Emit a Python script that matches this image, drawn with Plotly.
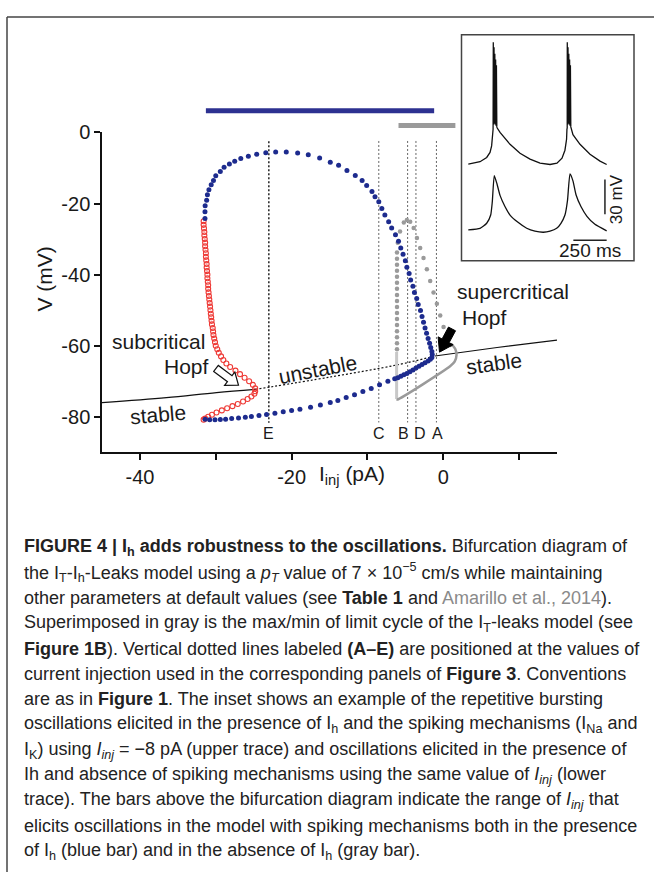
import math
import plotly.graph_objects as go

W, H = 654, 872
FONT = "Liberation Sans, Arial, sans-serif"

# ---------------- main bifurcation diagram data (I_inj pA, V mV) ----------------
ss_stable_left_I = [-45.0, -36.5, -29.9, -24.8]
ss_stable_left_V = [-76.0, -74.6, -73.2, -72.3]
ss_unstable_I = [-24.8, -14.9, -6.1, -1.1]
ss_unstable_V = [-72.3, -68.8, -65.4, -62.9]
ss_stable_right_I = [-1.1, 7.1, 15.0]
ss_stable_right_V = [-62.9, -60.5, -58.4]

# stable limit cycle (with I_h) - maxima branch
blue_max_I = [-31.42, -31.42, -31.4, -31.2, -31.1, -30.9, -30.6, -30.3, -30.0, -29.4, -28.9, -28.2,
              -27.5, -26.7, -25.7, -24.6, -23.4, -22.1, -20.7, -19.2, -17.8, -16.3, -14.9, -13.8,
              -12.7, -11.6, -10.7, -10.1, -9.4, -9.0, -8.5, -8.1, -7.7, -7.2, -6.8, -6.3, -5.9,
              -5.6, -5.3, -5.0, -4.8, -4.5, -4.3, -4.0, -3.8, -3.5, -3.3, -3.0, -2.8, -2.6, -2.4,
              -2.2, -2.0, -1.8, -1.65, -1.5, -1.45, -1.5]
blue_max_V = [-24.2, -22.3, -20.6, -19.1, -17.5, -16.1, -14.7, -13.5, -12.2, -11.0, -9.8, -8.9,
              -8.1, -7.3, -6.7, -6.1, -5.7, -5.5, -5.5, -5.8, -6.3, -7.2, -8.4, -9.2,
              -10.7, -12.1, -13.5, -14.9, -16.6, -18.1, -19.5, -21.4, -23.2, -25.1, -26.9, -28.8, -30.6,
              -32.5, -34.3, -36.1, -37.9, -39.7, -41.5, -43.3, -45.0, -46.7, -48.4, -50.1, -51.8, -53.4, -55.0,
              -56.5, -58.0, -59.3, -60.5, -61.6, -62.5, -63.3]
# minima branch
blue_min_I = [-1.7, -2.0, -2.4, -2.8, -3.2, -3.6, -4.0, -4.4, -4.8, -5.2, -5.6, -6.0, -6.4,
              -7.3, -8.4, -9.5, -10.6, -11.7, -12.8, -13.9, -14.9, -16.2, -17.5, -18.9, -20.0,
              -21.1, -22.2, -23.3, -24.3, -25.3, -26.1, -27.0, -27.9, -28.7, -29.4, -30.1, -30.8, -31.4]
blue_min_V = [-63.8, -64.3, -64.8, -65.3, -65.8, -66.3, -66.8, -67.3, -67.8, -68.2, -68.6, -69.0, -69.3,
              -70.0, -71.0, -72.0, -72.9, -73.8, -74.6, -75.4, -76.0, -76.7, -77.3, -77.9, -78.25,
              -78.6, -79.0, -79.35, -79.6, -79.9, -80.1, -80.3, -80.5, -80.65, -80.75, -80.85, -80.85, -80.7]

# unstable limit cycle (with I_h)
red_I = [-31.6, -31.6, -31.55, -31.5, -31.5, -31.45, -31.4, -31.4, -31.35, -31.3, -31.3, -31.25,
         -31.2, -31.2, -31.15, -31.1, -31.1, -31.05, -31.0, -31.0, -30.95, -30.9, -30.85, -30.8,
         -30.75, -30.7, -30.65, -30.6, -30.55, -30.5, -30.4, -30.35, -30.3, -30.2, -30.1, -30.0,
         -29.8, -29.6, -29.3, -29.0, -28.6, -28.1, -27.4, -26.8, -26.2, -25.6, -25.1, -24.8,
         -24.8, -24.9, -25.3, -25.8, -26.4, -27.1, -27.8, -28.5, -29.2, -29.9, -30.5, -31.0, -31.4, -31.6]
red_V = [-25, -26, -27, -28, -29, -30, -31, -32, -33, -34, -35, -36,
         -37, -38, -39, -40, -41, -42, -43, -44, -45, -46, -47, -48,
         -49, -50, -51, -52, -53, -54, -55, -56, -57, -58, -59, -60,
         -61, -62, -63, -64, -65, -66, -67, -68, -69, -70, -71, -72,
         -72.8, -73.5, -74.3, -75.0, -75.7, -76.4, -77.0, -77.6, -78.2, -78.8, -79.4, -80.0, -80.5, -80.8]

# I_T-leaks model limit cycle (gray): maxima and minima
gray_max_I = [-6.1] * 17 + [-6.0, -5.7, -5.2, -4.8, -4.36, -3.9, -3.47, -3.04, -2.6, -2.16, -1.72,
                             -1.28, -0.84, -0.4, 0.04, 0.48, 0.92]
gray_max_V = [-61.0, -59.3, -57.6, -55.9, -54.2, -52.5, -50.8, -49.1, -47.4, -45.7, -44.0, -42.3,
              -40.6, -38.9, -37.2, -35.5, -33.8, -31.0, -27.9, -25.3, -24.6, -25.1, -26.9, -29.7,
              -32.5, -35.3, -38.5, -41.8, -45.0, -48.2, -51.5, -54.7, -57.5, -59.8]
gray_min_I = [1.1, 1.6, 1.75, 1.5, 0.9, -6.0, -6.15]
gray_min_V = [-59.5, -61.0, -62.6, -64.5, -65.8, -75.1, -75.0]
gray_edge_I = [-6.15, -6.15]
gray_edge_V = [-75.0, -61.8]

# vertical dotted lines (current injection of Figure 3 panels)
vline_names = ["E", "C", "B", "D", "A"]
vline_I = [-23.0, -8.5, -4.7, -3.6, -0.9]
vlabel_I = [-23.0, -8.5, -5.3, -3.1, -0.7]

# ranges of I_inj eliciting oscillations
blue_bar_I = [-31.3, -1.2]
gray_bar_I = [-5.9, 1.6]

# axis ticks
x_tickvals = [-40, -30, -20, -10, 0, 10]
x_ticktext = ["-40", "", "-20", "", "0", ""]
y_tickvals = [-80, -60, -40, -20, 0]
y_ticktext = ["-80", "-60", "-40", "-20", "0"]

# ---------------- inset traces (t ms, V mV) ----------------
upper_t = [0, 88, 138, 163, 175, 180, 186, 187.5, 190, 193, 196, 199, 202, 205, 208, 211, 214, 217,
           238, 275, 313, 388, 463, 538, 613, 665, 703, 725, 737, 740,
           742, 742.5, 745, 748, 751, 754, 757, 760, 763, 766, 769, 772,
           785, 838, 913, 988, 1038]
upper_v = [-75.0, -73.0, -69.3, -65.0, -59.4, -52.0, -45.0, 29.8, -41.0, 25.5, -40.0, 20.0, -41.0, 15.0,
           -42.0, 10.0, -43.0, -44.0,
           -47.8, -52.9, -58.0, -65.7, -70.8, -74.2, -75.4, -74.2, -69.9, -63.1, -53.8, -45.0,
           -44.0, 29.8, -41.0, 25.5, -40.0, 20.0, -41.0, 15.0, -42.0, 10.0, -43.0, -44.0,
           -49.7, -58.0, -66.5, -72.5, -75.4]
lower_t = [0, 88, 138, 168, 180, 195, 215, 238, 275, 313, 373, 438, 500, 563, 613, 663, 695, 725,
           744, 763, 785, 808, 845, 890, 950, 1038]
lower_v = [-75.0, -73.6, -69.3, -62.2, -50.9, -28.2, -35.3, -45.3, -54.9, -62.2, -68.5, -73.6, -76.1,
           -77.0, -76.1, -73.6, -69.3, -62.2, -49.8, -26.8, -32.8, -44.7, -54.9, -63.3, -70.2, -75.8]
LOWER_OFFSET = -56.7          # vertical display offset of the lower trace
scale_t = 250                 # ms
scale_v = 30                  # mV

# ---------------- geometry helpers ----------------
X0_PX, X1_PX = 102, 557
Y0_PX, Y1_PX = 123, 447       # y=0 mV at top, -90 at bottom
XR = [-45, 15]
YR = [-90, 0]


def px2d(x, y):
    I = XR[0] + (x - X0_PX) * (XR[1] - XR[0]) / (X1_PX - X0_PX)
    V = YR[1] - (y - Y0_PX) * (YR[1] - YR[0]) / (Y1_PX - Y0_PX)
    return I, V


def arrow_path(tail, tip, head_len, head_hw, shaft_hw):
    dx, dy = tip[0] - tail[0], tip[1] - tail[1]
    L = math.hypot(dx, dy)
    ux, uy = dx / L, dy / L
    nx, ny = -uy, ux
    neck = (tip[0] - ux * head_len, tip[1] - uy * head_len)
    pts = [
        (tail[0] + nx * shaft_hw, tail[1] + ny * shaft_hw),
        (neck[0] + nx * shaft_hw, neck[1] + ny * shaft_hw),
        (neck[0] + nx * head_hw, neck[1] + ny * head_hw),
        tip,
        (neck[0] - nx * head_hw, neck[1] - ny * head_hw),
        (neck[0] - nx * shaft_hw, neck[1] - ny * shaft_hw),
        (tail[0] - nx * shaft_hw, tail[1] - ny * shaft_hw),
    ]
    d = [px2d(*p) for p in pts]
    return "M " + " L ".join(f"{a:.3f},{b:.3f}" for a, b in d) + " Z"


def py(ypx):
    return (H - ypx) / H


def pxx(xpx):
    return xpx / W


fig = go.Figure()

BLUE = "#1d2b8e"
RED = "#ee3a36"
GRAY = "#9a9a9a"

# steady state curve
fig.add_trace(go.Scatter(x=ss_stable_left_I, y=ss_stable_left_V, mode="lines",
                         line=dict(color="#111", width=1.2, shape="spline")))
fig.add_trace(go.Scatter(x=ss_unstable_I, y=ss_unstable_V, mode="lines",
                         line=dict(color="#111", width=1.2, dash="2px,2px", shape="spline")))
fig.add_trace(go.Scatter(x=ss_stable_right_I, y=ss_stable_right_V, mode="lines",
                         line=dict(color="#111", width=1.2, shape="spline")))

# vertical dotted lines
for name, xv in zip(vline_names, vline_I):
    if name == "E":
        fig.add_trace(go.Scatter(x=[xv, xv], y=[-2.5, -81.7], mode="lines",
                                 line=dict(color="#222", width=1.5, dash="2px,2px")))
    else:
        fig.add_trace(go.Scatter(x=[xv, xv], y=[-2.4, -81.6], mode="lines",
                                 line=dict(color="#666", width=1.0, dash="2px,2px")))

# gray limit cycle (I_T-leaks model)
fig.add_trace(go.Scatter(x=gray_edge_I, y=gray_edge_V, mode="lines",
                         line=dict(color="#c8c8c8", width=3)))
fig.add_trace(go.Scatter(x=gray_min_I, y=gray_min_V, mode="lines",
                         line=dict(color=GRAY, width=2.5, shape="spline", smoothing=0.6)))
fig.add_trace(go.Scatter(x=gray_max_I, y=gray_max_V, mode="markers",
                         marker=dict(color=GRAY, size=4.5, line=dict(width=0))))

# red unstable limit cycle
fig.add_trace(go.Scatter(x=red_I, y=red_V, mode="markers",
                         marker=dict(symbol="circle-open", color=RED, size=5, line=dict(width=1.1, color=RED))))

# blue stable limit cycle
fig.add_trace(go.Scatter(x=blue_max_I, y=blue_max_V, mode="markers",
                         marker=dict(color=BLUE, size=5, line=dict(width=0))))
fig.add_trace(go.Scatter(x=blue_min_I, y=blue_min_V, mode="markers",
                         marker=dict(color=BLUE, size=5, line=dict(width=0))))

# inset traces
fig.add_trace(go.Scatter(x=upper_t, y=upper_v, mode="lines", xaxis="x2", yaxis="y2",
                         line=dict(color="#111", width=1.3)))
fig.add_trace(go.Scatter(x=lower_t, y=[v + LOWER_OFFSET for v in lower_v], mode="lines",
                         xaxis="x2", yaxis="y2", line=dict(color="#111", width=1.3, shape="spline", smoothing=0.5)))
# scale bars
sb_t_end = 1038
sb_v_y = -150 + 14
fig.add_trace(go.Scatter(x=[sb_t_end - scale_t, sb_t_end], y=[-140.6, -140.6], mode="lines",
                         xaxis="x2", yaxis="y2", line=dict(color="#222", width=1.5)))
fig.add_trace(go.Scatter(x=[1025, 1025], y=[-88.3, -88.3 - scale_v], mode="lines",
                         xaxis="x2", yaxis="y2", line=dict(color="#222", width=1.5)))

shapes = []
# page frame
shapes.append(dict(type="line", xref="paper", yref="paper", x0=pxx(7), x1=1.0, y0=py(6), y1=py(6),
                   line=dict(color="#444", width=1.5)))
shapes.append(dict(type="line", xref="paper", yref="paper", x0=pxx(7), x1=pxx(7), y0=0, y1=py(6),
                   line=dict(color="#444", width=1.5)))
# oscillation range bars
shapes.append(dict(type="line", xref="x", yref="paper", x0=blue_bar_I[0], x1=blue_bar_I[1],
                   y0=py(101), y1=py(101), line=dict(color="#2d3191", width=5)))
shapes.append(dict(type="line", xref="x", yref="paper", x0=gray_bar_I[0], x1=gray_bar_I[1],
                   y0=py(116), y1=py(116), line=dict(color=GRAY, width=5)))
# inset box
shapes.append(dict(type="rect", xref="paper", yref="paper", x0=pxx(461.5), x1=pxx(634), y0=py(253),
                   y1=py(24), line=dict(color="#444", width=1.5)))
# arrows
shapes.append(dict(type="path", xref="x", yref="y",
                   path=arrow_path((216, 362), (238.5, 379), 11, 8.5, 3.8),
                   fillcolor="white", line=dict(color="#111", width=1.2)))
shapes.append(dict(type="path", xref="x", yref="y",
                   path=arrow_path((452, 322), (439.5, 345.5), 13, 8.5, 4),
                   fillcolor="#000", line=dict(color="#000", width=1)))

ann = []


def txt(x, y, s, size=21, xref="x", yref="y", angle=0, xanchor="center", yanchor="middle", color="#1a1a1a"):
    ann.append(dict(x=x, y=y, xref=xref, yref=yref, text=s, showarrow=False, textangle=angle,
                    xanchor=xanchor, yanchor=yanchor, font=dict(family=FONT, size=size, color=color)))


for name, xl in zip(vline_names, vlabel_I):
    txt(xl, -84.8, name, size=16)

txt(*px2d(158, 335), "subcritical")
txt(*px2d(186, 360), "Hopf")
txt(*px2d(513, 284), "supercritical")
txt(*px2d(484, 310), "Hopf")
txt(*px2d(158, 409), "stable", angle=-5)
txt(*px2d(317, 363), "unstable", angle=-11)
txt(*px2d(494, 357), "stable", angle=-8)

# axis titles
txt(pxx(45), py(272), "V (mV)", size=21, xref="paper", yref="paper", angle=-90)
txt(pxx(352), py(470), "I<sub>inj</sub> (pA)", size=21, xref="paper", yref="paper")

# inset labels
txt(912, -149.8, "250 ms", size=19, xref="x2", yref="y2")
txt(1113, -105.5, "30 mV", size=17, xref="x2", yref="y2", angle=-90)

# caption
caption_lines = [
    "<b>FIGURE 4 | I<sub>h</sub> adds robustness to the oscillations.</b> Bifurcation diagram of",
    "the I<sub>T</sub>-I<sub>h</sub>-Leaks model using a <i>p<sub>T</sub></i> value of 7 × 10<sup>−5</sup> cm/s while maintaining",
    "other parameters at default values (see <b>Table 1</b> and <span style='color:#8a8a8a'>Amarillo et al., 2014</span>).",
    "Superimposed in gray is the max/min of limit cycle of the I<sub>T</sub>-leaks model (see",
    "<b>Figure 1B</b>). Vertical dotted lines labeled <b>(A–E)</b> are positioned at the values of",
    "current injection used in the corresponding panels of <b>Figure 3</b>. Conventions",
    "are as in <b>Figure 1</b>. The inset shows an example of the repetitive bursting",
    "oscillations elicited in the presence of I<sub>h</sub> and the spiking mechanisms (I<sub>Na</sub> and",
    "I<sub>K</sub>) using <i>I<sub>inj</sub></i> = −8 pA (upper trace) and oscillations elicited in the presence of",
    "Ih and absence of spiking mechanisms using the same value of <i>I<sub>inj</sub></i> (lower",
    "trace). The bars above the bifurcation diagram indicate the range of <i>I<sub>inj</sub></i> that",
    "elicits oscillations in the model with spiking mechanisms both in the presence",
    "of I<sub>h</sub> (blue bar) and in the absence of I<sub>h</sub> (gray bar).",
]
for k, line in enumerate(caption_lines):
    txt(pxx(22), py(543 + 25.7 * k), line, size=18, xref="paper", yref="paper",
        xanchor="left", color="#222")

fig.update_layout(
    width=W, height=H, margin=dict(l=0, r=0, t=0, b=0),
    paper_bgcolor="white", plot_bgcolor="rgba(0,0,0,0)", showlegend=False,
    xaxis=dict(domain=[X0_PX / W, X1_PX / W], range=XR, showline=True, linecolor="#111", linewidth=1.5,
               ticks="outside", ticklen=6, tickwidth=1.5, tickcolor="#111",
               tickvals=x_tickvals, ticktext=x_ticktext, showgrid=False, zeroline=False,
               tickfont=dict(family=FONT, size=20, color="#1a1a1a"), anchor="y", fixedrange=True),
    yaxis=dict(domain=[(H - Y1_PX) / H, (H - Y0_PX) / H], range=YR, showline=True, linecolor="#111",
               linewidth=1.5, ticks="outside", ticklen=6, tickwidth=1.5, tickcolor="#111",
               tickvals=y_tickvals, ticktext=y_ticktext, showgrid=False, zeroline=False,
               tickfont=dict(family=FONT, size=20, color="#1a1a1a"), anchor="x", fixedrange=True),
    xaxis2=dict(domain=[461.7 / W, 634 / W], range=[-49.5, 1243], visible=False, anchor="y2"),
    yaxis2=dict(domain=[(H - 253) / H, (H - 24) / H], range=[-158.3, 36.35], visible=False, anchor="x2"),
    shapes=shapes, annotations=ann,
)
for tr in fig.data:
    tr.hoverinfo = "skip"

fig.write_html("out.html")
